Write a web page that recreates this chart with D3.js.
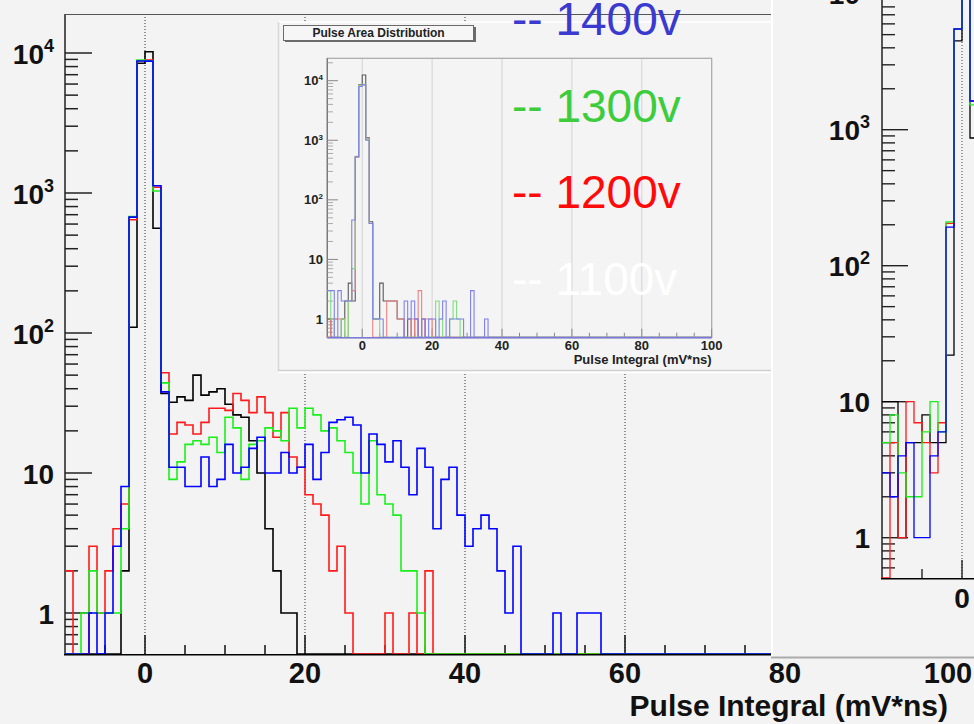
<!DOCTYPE html>
<html><head><meta charset="utf-8">
<script src="https://cdn.jsdelivr.net/npm/d3@7"></script>
<style>
html,body{margin:0;padding:0;background:#f3f3f3;}
svg{display:block;}
text{font-family:"Liberation Sans", Arial, Helvetica, sans-serif;}
</style></head><body>
<svg id="c" width="974" height="724"></svg>
<script>
// ---------- DATA (bin contents, 1 mV*ns bins starting at -10) ----------
const xMin = -10, xMax = 100;
const xTickMajor = [0, 20, 40, 60, 80, 100];
const xTickLabels = ["0", "20", "40", "60", "80", "100"];
const xTitle = "Pulse Integral (mV*ns)";
const yDecades = [0, 1, 2, 3, 4];
const legendLabels = ["-- 1400v", "-- 1300v", "-- 1200v", "-- 1100v"];
const legendColors = ["#3a3ad0", "#3ccc3c", "#ff0a0a", "#ffffff"];
const insetTitle = "Pulse Area Distribution";

// main histogram (big panel)
const mainBlack = [0,0,0,0,0,0,0,2,110,8440,10200,560,37,32,35,33,50,36,38,40,31,26,25,17,10,4,2,1,1];
const mainRed   = [2,0,0,3,1,2,4,6,644,8800,8900,1100,52,19,23,22,19,23,29,29,28,37,33,27,35,27,18,27,13,11,7,6,5,2,3,1,0,0,0,0,1,0,0,1,0,2];
const mainGreen = [0,0,1,2,1,1,1,4,680,8900,8800,1033,44,9,12,16,17,16,18,14,25,21,9,16,17,21,20,17,29,21,29,26,20,21,17,14,10,6,17,7,6,5,2,2,1];
const mainBlue  = [0,0,0,1,0,1,3,8,673,8770,8750,1128,38,11,11,8,8,13,8,9,16,10,11,15,18,10,10,14,10,11,16,9,14,23,24,25,22,10,19,16,12,17,11,7,15,11,4,9,11,5,3,4,5,4,2,1,3,0,0,0,0,1,0,0,1,1,1];

// right (partially visible) panel
const rightBlack = [10,10,1,5,5,8,5,5,22,4500,12000,869];
const rightRed   = [0,5,1,10,7,5,3,7,205,5500,12000,1625];
const rightGreen = [5,8,3,2,2,6,10,6,210,5500,12000,1520];
const rightBlue  = [3,2,4,5,1,1,4,6,192,5500,12000,1625];

// inset thumbnail
const insetBlack = [1,0,0,0,1,2,4,2,530,8500,12500,1100,43,1,1,4,2,2,2,2,1,1,0,1,0,1,0,1];
const insetRed   = [0,1,1,1,1,0,2,3,520,8400,8600,1050,40,0,0,0,0,2,2,2,1,1,0,0,1,0,3,0,1,1];
const insetGreen = [3,1,0,0,1,0,2,7,540,8300,8700,1030,40,1,1,0,0,0,0,0,0,0,0,0,0,0,0,0,0,0,0,2,1,0,0,1,2,1];
const insetBlue  = [3,3,0,3,2,2,2,46,530,8000,8500,1000,40,1,1,1,0,0,0,0,0,0,2,1,2,1,0,1,0,1,1,0,1,2,0,1,1,1,1,0,0,3,0,0,0,1];

// ---------- DRAWING ----------
const nBins = xMax - xMin;
const svg = d3.select("#c");
const BG = "#f3f3f3";
svg.append("rect").attr("width",974).attr("height",724).attr("fill",BG);

function histPath(xs, ys, vals, yBottom) {
  const pts = [];
  for (let i = 0; i < nBins; i++) {
    const v = vals[i] || 0;
    const y = v > 0 ? Math.min(ys(v), yBottom) : yBottom;
    pts.push([xs(xMin + i), y]);
  }
  pts.push([xs(xMax), pts[pts.length - 1][1]]);
  return d3.line().curve(d3.curveStepAfter)(pts);
}

function minorVals(dMin, dMax) {
  const out = [];
  for (let d = dMin; d <= dMax; d++) for (let k = 2; k <= 9; k++) out.push(k * Math.pow(10, d));
  return out;
}

function yLabel(g, x, y, d, fs, sfs, sdy, fill) {
  const t = g.append("text").attr("x", x).attr("y", y).attr("text-anchor", "end")
    .attr("font-weight", "bold").attr("font-size", fs).attr("fill", fill || "#111");
  if (d === 0) t.text("1");
  else if (d === 1) t.text("10");
  else { t.append("tspan").text("10"); t.append("tspan").attr("dy", sdy).attr("font-size", sfs).text(String(d)); }
}

// ===== MAIN PANEL =====
const mx = d3.scaleLinear().domain([xMin, xMax]).range([65, 65 + 8 * nBins]);
const my = d3.scaleLog().domain([1, 1e4]).range([613, 53]);
const mTop = 14, mBottom = 654, mRight = 771;

const defs = svg.append("defs");
defs.append("clipPath").attr("id", "mclip").append("rect")
  .attr("x", 65).attr("y", mTop).attr("width", mRight - 65).attr("height", mBottom - mTop + 2);
defs.append("clipPath").attr("id", "rclip").append("rect")
  .attr("x", 882).attr("y", -20).attr("width", 100).attr("height", 600);
defs.append("clipPath").attr("id", "iclip").append("rect")
  .attr("x", 327).attr("y", 58).attr("width", 385).attr("height", 281);

const main = svg.append("g");
// dotted grid
main.selectAll("line.grid").data(xTickMajor.filter(v => v < 100)).enter().append("line")
  .attr("x1", d => mx(d)).attr("x2", d => mx(d)).attr("y1", mTop).attr("y2", mBottom)
  .attr("stroke", "#333").attr("stroke-width", 1).attr("stroke-dasharray", "1,2");
// frame top
main.append("line").attr("x1", 65).attr("x2", mRight).attr("y1", mTop + 0.5).attr("y2", mTop + 0.5)
  .attr("stroke", "#555").attr("stroke-width", 1.2);
// y axis
main.append("line").attr("x1", 65).attr("x2", 65).attr("y1", mTop).attr("y2", mBottom + 1)
  .attr("stroke", "#555").attr("stroke-width", 2);
main.selectAll("line.ymaj").data(yDecades).enter().append("line")
  .attr("x1", 65).attr("x2", 92).attr("y1", d => my(Math.pow(10, d))).attr("y2", d => my(Math.pow(10, d)))
  .attr("stroke", "#222").attr("stroke-width", 1.5);
main.selectAll("line.ymin").data(minorVals(-1, 4).filter(v => my(v) > mTop && my(v) < mBottom - 1)).enter().append("line")
  .attr("x1", 65).attr("x2", 78).attr("y1", d => my(d)).attr("y2", d => my(d))
  .attr("stroke", "#222").attr("stroke-width", 1.5);
yDecades.forEach(d => yLabel(main, 54, my(Math.pow(10, d)) + 10.5, d, 28, 18, -12));
// x ticks
const mMinorX = d3.range(-5, 100, 5).filter(v => v % 20 !== 0);
main.selectAll("line.xmin").data(mMinorX.filter(v => mx(v) < mRight)).enter().append("line")
  .attr("x1", d => mx(d)).attr("x2", d => mx(d)).attr("y1", mBottom).attr("y2", mBottom - 9)
  .attr("stroke", "#111").attr("stroke-width", 1.5);
main.selectAll("line.xmaj").data(xTickMajor.filter(v => mx(v) < mRight)).enter().append("line")
  .attr("x1", d => mx(d)).attr("x2", d => mx(d)).attr("y1", mBottom).attr("y2", mBottom - 19)
  .attr("stroke", "#111").attr("stroke-width", 1.5);
// histograms
const mh = main.append("g").attr("clip-path", "url(#mclip)");
[[mainBlack, "#000000"], [mainRed, "#ff1a1a"], [mainGreen, "#19f019"], [mainBlue, "#0000ff"]].forEach(([vals, col]) => {
  mh.append("path").attr("d", histPath(mx, my, vals, mBottom)).attr("fill", "none")
    .attr("stroke", col).attr("stroke-width", 1.6).attr("stroke-linejoin", "miter");
});
// bottom axis
main.append("line").attr("x1", 64).attr("x2", mRight).attr("y1", mBottom + 0.8).attr("y2", mBottom + 0.8)
  .attr("stroke", "#000").attr("stroke-width", 1.6);
// x labels and title
main.selectAll("text.xl").data(xTickMajor).enter().append("text")
  .attr("x", d => mx(d) + (d === 100 ? 3 : 0)).attr("y", 683).attr("text-anchor", "middle")
  .attr("font-weight", "bold").attr("font-size", 29).attr("fill", "#111")
  .text((d, i) => xTickLabels[i]);
main.append("text").attr("x", 948).attr("y", 716).attr("text-anchor", "end")
  .attr("font-weight", "bold").attr("font-size", 30).attr("fill", "#111").text(xTitle);

// ===== INSET (thumbnail) =====
const ins = svg.append("g");
ins.append("rect").attr("x", 278).attr("y", 22).attr("width", mRight - 278).attr("height", 350).attr("fill", "#f4f4f4");
ins.append("line").attr("x1", 278).attr("x2", mRight).attr("y1", 22).attr("y2", 22).attr("stroke", "#ffffff").attr("stroke-width", 1.5);
ins.append("line").attr("x1", 278.5).attr("x2", 278.5).attr("y1", 22).attr("y2", 371).attr("stroke", "#d6d6d6").attr("stroke-width", 1.5);
ins.append("line").attr("x1", 278).attr("x2", mRight).attr("y1", 370.5).attr("y2", 370.5).attr("stroke", "#d0d0d0").attr("stroke-width", 1.5);
ins.append("line").attr("x1", 278).attr("x2", mRight).attr("y1", 372.5).attr("y2", 372.5).attr("stroke", "#ffffff").attr("stroke-width", 1.5);

const ix = d3.scaleLinear().domain([xMin, xMax]).range([327.3, 711.7]);
const iy = d3.scaleLog().domain([1, 1e4]).range([319, 80.7]);
const iTop = 58.3, iBottom = 337.7;
// grid
ins.selectAll("line.ig").data([0, 20, 40, 60, 80]).enter().append("line")
  .attr("x1", d => ix(d)).attr("x2", d => ix(d)).attr("y1", iTop).attr("y2", iBottom)
  .attr("stroke", "#d2d2d2").attr("stroke-width", 1);
// frame
ins.append("rect").attr("x", 327.3).attr("y", iTop).attr("width", 711.7 - 327.3).attr("height", iBottom - iTop)
  .attr("fill", "none").attr("stroke", "#a8a8a8").attr("stroke-width", 1.2);
ins.append("line").attr("x1", 327.3).attr("x2", 327.3).attr("y1", iTop).attr("y2", iBottom).attr("stroke", "#777").attr("stroke-width", 1.3);
ins.selectAll("line.iymaj").data(yDecades).enter().append("line")
  .attr("x1", 327.3).attr("x2", 338).attr("y1", d => iy(Math.pow(10, d))).attr("y2", d => iy(Math.pow(10, d)))
  .attr("stroke", "#888").attr("stroke-width", 1);
ins.selectAll("line.iymin").data(minorVals(-1, 4).filter(v => iy(v) > iTop && iy(v) < iBottom)).enter().append("line")
  .attr("x1", 327.3).attr("x2", 333).attr("y1", d => iy(d)).attr("y2", d => iy(d))
  .attr("stroke", "#999").attr("stroke-width", 0.8);
ins.selectAll("line.ixmin").data(d3.range(-5, 100, 5).filter(v => v % 20 !== 0)).enter().append("line")
  .attr("x1", d => ix(d)).attr("x2", d => ix(d)).attr("y1", iBottom).attr("y2", iBottom - 5)
  .attr("stroke", "#888").attr("stroke-width", 1);
ins.selectAll("line.ixmaj").data(xTickMajor).enter().append("line")
  .attr("x1", d => ix(d)).attr("x2", d => ix(d)).attr("y1", iBottom).attr("y2", iBottom - 9)
  .attr("stroke", "#888").attr("stroke-width", 1);
const ih = ins.append("g").attr("clip-path", "url(#iclip)");
[[insetBlack, "#5a5a5a"], [insetRed, "#f08080"], [insetGreen, "#80dc80"], [insetBlue, "#8080f0"]].forEach(([vals, col]) => {
  ih.append("path").attr("d", histPath(ix, iy, vals, iBottom - 0.5)).attr("fill", "none")
    .attr("stroke", col).attr("stroke-width", 1.1);
});
ins.append("line").attr("x1", 327.3).attr("x2", 711.7).attr("y1", iBottom).attr("y2", iBottom).attr("stroke", "#7a7ad8").attr("stroke-width", 1.4);
yDecades.forEach(d => yLabel(ins, 323, iy(Math.pow(10, d)) + 4.5, d, 13, 8, -5, "#222"));
ins.selectAll("text.ixl").data(xTickMajor).enter().append("text")
  .attr("x", d => ix(d)).attr("y", 350).attr("text-anchor", "middle")
  .attr("font-weight", "bold").attr("font-size", 13).attr("fill", "#222")
  .text((d, i) => xTickLabels[i]);
ins.append("text").attr("x", 711.7).attr("y", 364).attr("text-anchor", "end")
  .attr("font-weight", "bold").attr("font-size", 13).attr("fill", "#222").text(xTitle);
// inset title box
ins.append("rect").attr("x", 285).attr("y", 27).attr("width", 191).attr("height", 15).attr("fill", "#6a6a6a");
ins.append("rect").attr("x", 283.5).attr("y", 25.5).attr("width", 190).attr("height", 15)
  .attr("fill", "#f6f6f6").attr("stroke", "#6a6a6a").attr("stroke-width", 1);
ins.append("text").attr("x", 378.5).attr("y", 37).attr("text-anchor", "middle")
  .attr("font-weight", "bold").attr("font-size", 12).attr("fill", "#222").text(insetTitle);

// legend texts
legendLabels.forEach((lab, i) => {
  svg.append("text").attr("x", 512).attr("y", 35 + i * 86.5).attr("font-size", 46)
    .attr("fill", legendColors[i]).text(lab);
});

// ===== RIGHT PANEL (partial) =====
const rp = svg.append("g");
rp.append("rect").attr("x", 772).attr("y", 0).attr("width", 202).attr("height", 657).attr("fill", BG);
rp.append("line").attr("x1", 772).attr("x2", 772).attr("y1", 0).attr("y2", 657).attr("stroke", "#ffffff").attr("stroke-width", 2);
rp.append("line").attr("x1", 771).attr("x2", 974).attr("y1", 657.5).attr("y2", 657.5).attr("stroke", "#ababab").attr("stroke-width", 2);

const rx = d3.scaleLinear().domain([xMin, xMax]).range([882, 882 + 8 * nBins]);
const ry = d3.scaleLog().domain([1, 1e4]).range([537.7, -6.3]);
const rBottom = 578;
rp.append("line").attr("x1", rx(0)).attr("x2", rx(0)).attr("y1", 0).attr("y2", rBottom)
  .attr("stroke", "#444").attr("stroke-width", 1).attr("stroke-dasharray", "1,2");
rp.append("line").attr("x1", 882).attr("x2", 882).attr("y1", 0).attr("y2", rBottom + 1).attr("stroke", "#555").attr("stroke-width", 2);
rp.selectAll("line.rymaj").data(yDecades).enter().append("line")
  .attr("x1", 882).attr("x2", 908).attr("y1", d => ry(Math.pow(10, d))).attr("y2", d => ry(Math.pow(10, d)))
  .attr("stroke", "#222").attr("stroke-width", 1.4);
rp.selectAll("line.rymin").data(minorVals(-1, 4).filter(v => ry(v) > 0 && ry(v) < rBottom - 1)).enter().append("line")
  .attr("x1", 882).attr("x2", 895).attr("y1", d => ry(d)).attr("y2", d => ry(d))
  .attr("stroke", "#222").attr("stroke-width", 1.4);
yDecades.forEach(d => yLabel(rp, 870, ry(Math.pow(10, d)) + 10.5, d, 28, 18, -12));
rp.append("line").attr("x1", rx(-5)).attr("x2", rx(-5)).attr("y1", rBottom).attr("y2", rBottom - 9).attr("stroke", "#222").attr("stroke-width", 1.4);
rp.append("line").attr("x1", rx(0)).attr("x2", rx(0)).attr("y1", rBottom).attr("y2", rBottom - 18).attr("stroke", "#222").attr("stroke-width", 1.4);
const rh = rp.append("g").attr("clip-path", "url(#rclip)");
[[rightBlack, "#000000"], [rightRed, "#ff1a1a"], [rightGreen, "#19f019"], [rightBlue, "#0000ff"]].forEach(([vals, col]) => {
  rh.append("path").attr("d", histPath(rx, ry, vals, rBottom)).attr("fill", "none")
    .attr("stroke", col).attr("stroke-width", 1.3);
});
rp.append("line").attr("x1", 881).attr("x2", 974).attr("y1", rBottom + 0.8).attr("y2", rBottom + 0.8).attr("stroke", "#000").attr("stroke-width", 1.6);
rp.append("text").attr("x", rx(0)).attr("y", 608).attr("text-anchor", "middle")
  .attr("font-weight", "bold").attr("font-size", 28).attr("fill", "#111").text(xTickLabels[0]);
</script>
</body></html>
